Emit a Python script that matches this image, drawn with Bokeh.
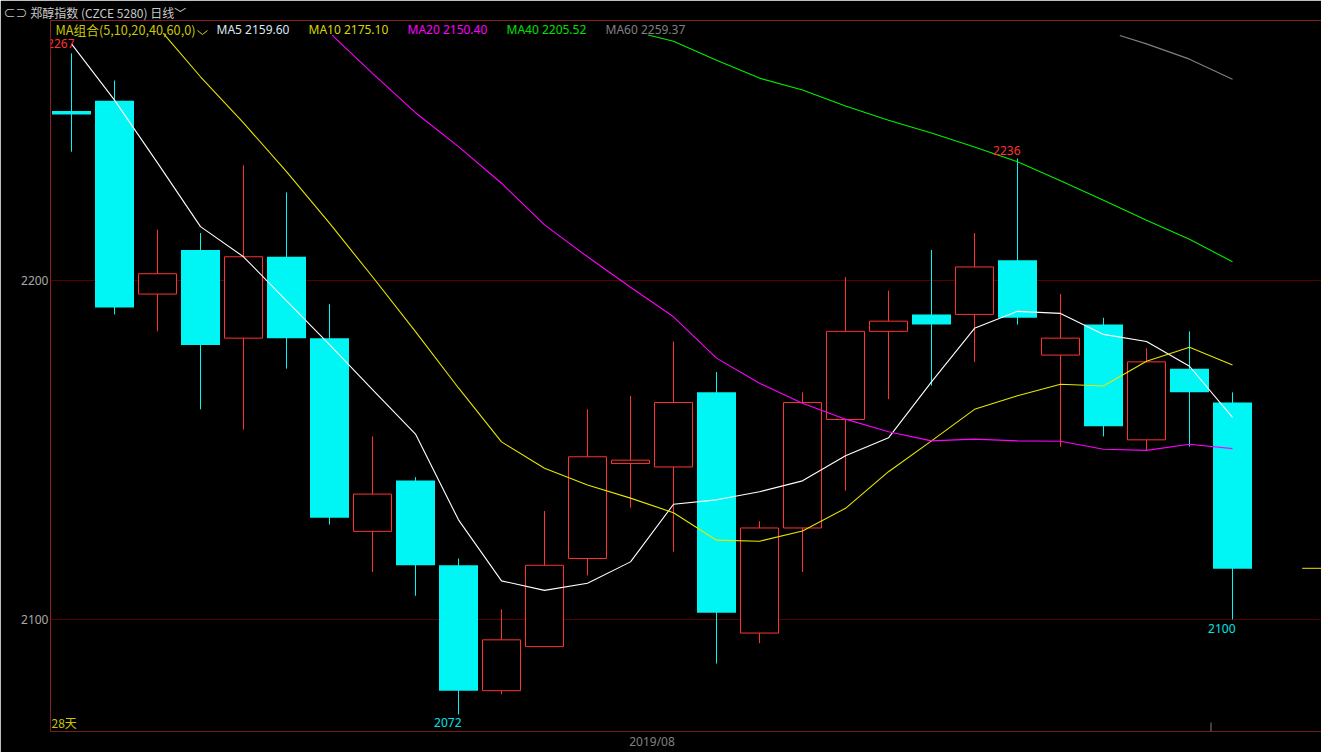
from bokeh.plotting import figure
from bokeh.models import Range1d, FixedTicker, Arrow, ColumnDataSource
from bokeh.core.properties import value
from bokeh.embed import file_html
from bokeh.resources import INLINE

# ---------- data ----------
day = list(range(28))
open_ = [2250, 2253, 2196, 2209, 2183, 2207, 2183, 2126, 2141, 2116, 2079, 2092, 2118, 2146,
         2145, 2167, 2096, 2127, 2159, 2185, 2190, 2190, 2206, 2178, 2187, 2153, 2174, 2164]
high = [2267, 2259, 2215, 2214, 2234, 2226, 2193, 2154, 2142, 2118, 2103, 2132, 2162, 2166,
        2182, 2173, 2129, 2167, 2201, 2197, 2209, 2214, 2236, 2196, 2189, 2180, 2185, 2167]
low = [2238, 2190, 2185, 2162, 2156, 2174, 2128, 2114, 2107, 2072, 2078, 2092, 2113, 2133,
       2120, 2087, 2093, 2114, 2138, 2165, 2169, 2176, 2187, 2151, 2154, 2150, 2151, 2100]
close = [2249, 2192, 2202, 2181, 2207, 2183, 2130, 2137, 2116, 2079, 2094, 2116, 2148, 2147,
         2164, 2102, 2127, 2164, 2185, 2188, 2187, 2204, 2189, 2183, 2157, 2176, 2167, 2115]

ma5_x = day
ma5 = [2269.8, 2253.2, 2234.7, 2215.9, 2207.0, 2194.0, 2181.1, 2167.8, 2154.7, 2129.4, 2111.4,
       2108.6, 2110.7, 2117.0, 2134.0, 2135.3, 2137.7, 2140.9, 2148.3, 2153.6, 2170.1, 2185.9,
       2190.9, 2190.3, 2184.1, 2182.0, 2174.7, 2159.6]
ma10_x = [2.135] + day[3:]
ma10 = [2272.9, 2260.1, 2246.5, 2232.1, 2216.9, 2201.1, 2184.9, 2168.3, 2152.4, 2144.6, 2139.7,
        2135.8, 2131.5, 2123.4, 2123.1, 2126.1, 2132.8, 2143.6, 2152.7, 2162.0, 2166.0, 2169.4,
        2168.9, 2176.2, 2180.3, 2175.1]
ma20_x = [6.06] + day[7:]
ma20 = [2272.4, 2261.1, 2249.5, 2239.5, 2228.7, 2216.4, 2207.0, 2198.0, 2189.3, 2177.1, 2169.7,
        2163.8, 2159.1, 2155.4, 2152.7, 2153.2, 2152.7, 2152.6, 2150.2, 2149.9, 2151.7, 2150.4]
ma40_x = [13.41] + day[14:]
ma40 = [2272.4, 2270.6, 2265.0, 2259.7, 2256.2, 2251.5, 2247.3, 2243.5, 2239.4, 2235.0, 2229.4,
        2223.7, 2217.8, 2212.2, 2205.52]
ma60_x = [24.38, 25, 26, 27]
ma60 = [2272.3, 2269.8, 2265.3, 2259.37]
next_x = [28.62, 29.1]
next_y = [2115.1, 2115.1]

extreme_day = [0, 22, 9, 27]
extreme_val = [2267, 2236, 2072, 2100]
extreme_off = [-9.5, -8, 8, 8.5]
extreme_col = ["#FF3232", "#FF3232", "#00E6E6", "#00E6E6"]

y_ticks = [2100, 2200]
month_tick = 13.5
month_label = "2019/08"
month_edge = 26.5

header_title = "\u2282\u2283 郑醇指数 (CZCE 5280)    日线\ufe40"
legend_items = [("MA5 2159.60", 216, "#DCE6F0"), ("MA10 2175.10", 308, "#D8D800"),
                ("MA20 2150.40", 407, "#FF00FF"), ("MA40 2205.52", 506, "#00E000"),
                ("MA60 2259.37", 605, "#808080")]

# ---------- page geometry (reference pixels; Bokeh draws half a pixel further on) ----------
W, H = 1321, 752
PX0, PX_PER_DAY = 71.0, 43.0
PY0, PX_PER_UNIT = 619.0, 3.39
xd = lambda px: (px - PX0) / PX_PER_DAY
yd = lambda py: 2100 + (PY0 - py) / PX_PER_UNIT

p = figure(width=W, height=H, output_backend="svg", toolbar_location=None,
           x_range=Range1d(xd(50), xd(1321)), y_range=Range1d(yd(731), yd(20)),
           background_fill_color="#000000", border_fill_color="#000000",
           min_border_left=50, min_border_right=0, min_border_top=20, min_border_bottom=21)
p.outline_line_color = None

# header line as the figure's title
p.title.text = header_title
p.title.text_color = "#C8C8C8"
p.title.text_font = "Noto Sans CJK SC"
p.title.text_font_size = "12px"
p.title.text_font_style = "normal"
p.title.standoff = 0
p.title.align = "left"
p.title.offset = -47

# axes and grid
p.xgrid.visible = False
p.ygrid.ticker = FixedTicker(ticks=y_ticks)
p.ygrid.grid_line_color = "#B00000"
p.ygrid.grid_line_dash = "1 1"
p.yaxis.ticker = FixedTicker(ticks=y_ticks)
p.yaxis.axis_line_color = None
p.yaxis.major_tick_line_color = None
p.yaxis.minor_tick_line_color = None
p.yaxis.major_tick_out = 0
p.yaxis.major_label_standoff = 2
p.yaxis.major_label_text_color = "#A8A8A8"
p.yaxis.major_label_text_font = "Noto Sans"
p.yaxis.major_label_text_font_size = "12px"
p.xaxis.ticker = FixedTicker(ticks=[month_tick])
p.xaxis.major_label_overrides = {month_tick: month_label}
p.xaxis.axis_line_color = None
p.xaxis.major_tick_line_color = None
p.xaxis.minor_tick_line_color = None
p.xaxis.major_tick_out = 0
p.xaxis.major_label_standoff = 1
p.xaxis.major_label_text_color = "#808080"
p.xaxis.major_label_text_font = "Noto Sans"
p.xaxis.major_label_text_font_size = "12px"

# candles
CYAN, RED = "#00F5F5", "#FF3232"
up = [c > o for o, c in zip(open_, close)]
wick = ColumnDataSource(dict(x=day, low=low, high=high, c=[RED if u else CYAN for u in up]))
p.segment(x0="x", y0="low", x1="x", y1="high", color="c", line_width=1, source=wick)
dn_x = [d for d, u in zip(day, up) if not u]
up_x = [d for d, u in zip(day, up) if u]
p.vbar(x=dn_x, width=39 / PX_PER_DAY,
       top=[open_[d] for d in dn_x], bottom=[close[d] for d in dn_x],
       fill_color=CYAN, line_color=None)
p.vbar(x=up_x, width=38 / PX_PER_DAY,
       top=[close[d] for d in up_x], bottom=[open_[d] for d in up_x],
       fill_color="#000000", line_color=RED, line_width=1)

# moving averages
LW = 1.1
p.line(ma5_x, ma5, line_color="#FFFFFF", line_width=LW)
p.line(ma10_x, ma10, line_color="#E6E600", line_width=LW)
p.line(ma20_x, ma20, line_color="#FF00FF", line_width=LW)
p.line(ma40_x, ma40, line_color="#00F000", line_width=LW)
p.line(ma60_x, ma60, line_color="#808080", line_width=LW)
p.line(next_x, next_y, line_color="#E6E600", line_width=1)

# extreme labels
p.text(x=extreme_day, y=extreme_val, text=[str(v) for v in extreme_val],
       text_color=extreme_col, text_align="right", text_baseline="middle",
       x_offset=3, y_offset=extreme_off, text_font=value("Noto Sans"), text_font_size="12px")

# frame lines
def rule(px0, py0, px1, py1, color, width=1):
    p.add_layout(Arrow(end=None, x_start=xd(px0), y_start=yd(py0), x_end=xd(px1), y_end=yd(py1),
                       line_color=color, line_width=width))

rule(42, 43, 50, 43, "#000000", 14)   # the 2267 label is cut by the frame in the reference
rule(0, 20, 1321, 20, "#C80000")
rule(50, 20, 50, 731, "#C80000")
rule(50, 731, 1321, 731, "#A80000")
rule(197, 30, 202, 34, "#D8D800"); rule(202, 34, 207, 30, "#D8D800")
p.segment(x0=[month_edge], y0=[yd(731)], x1=[month_edge], y1=[yd(722)],
          line_color="#808080", line_width=1)

# legend texts
def label(text, px, py, color, font="Noto Sans", size="12px"):
    p.text(x=[xd(px)], y=[yd(py)], text=[text], text_color=color, text_font=value(font),
           text_font_size=size, text_baseline="middle", text_align="left")

label("MA组合(5,10,20,40,60,0)", 55, 29, "#C8C800", "Noto Sans CJK SC", "12.7px")
for txt, px, col in legend_items:
    label(txt, px, 29, col)
label("28天", 51, 722, "#C8C800", "Noto Sans CJK SC", "12px")

open("out.html", "w").write(file_html(p, INLINE))
